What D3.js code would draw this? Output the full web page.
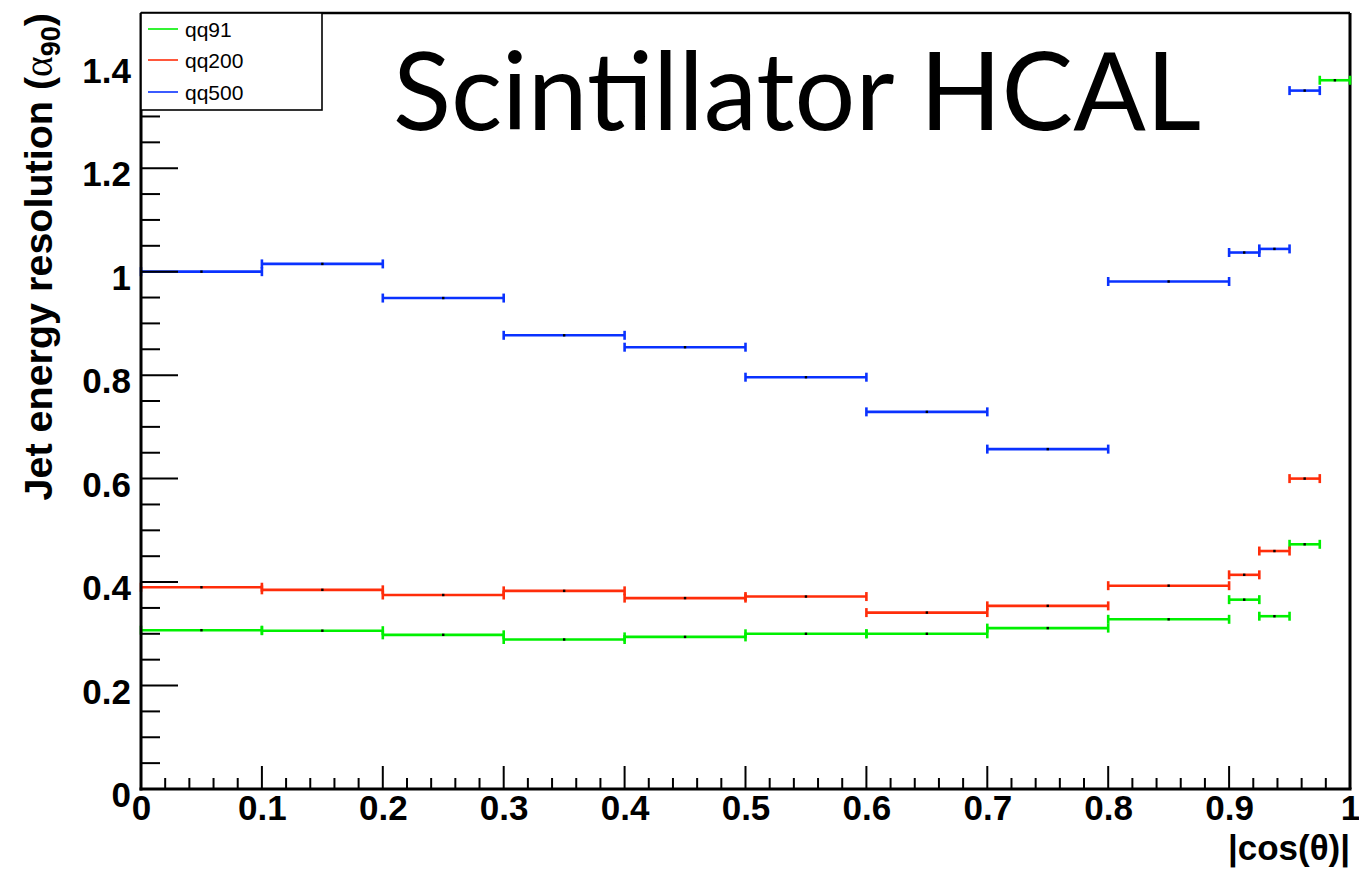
<!DOCTYPE html>
<html>
<head>
<meta charset="utf-8">
<script src="https://cdn.jsdelivr.net/npm/d3@7"></script>
<style>
  html, body { margin: 0; padding: 0; background: #fff; }
  svg { display: block; }
</style>
</head>
<body>
<svg id="chart" width="1359" height="872"></svg>
<script>
// Bin edges in |cos(theta)|
const binEdges = [0, 0.1, 0.2, 0.3, 0.4, 0.5, 0.6, 0.7, 0.8, 0.9, 0.925, 0.95, 0.975, 1.0];

// Jet energy resolution alpha_90 per bin (null = not shown)
const qq91  = [0.307, 0.306, 0.298, 0.289, 0.294, 0.300, 0.300, 0.311, 0.328, 0.366, 0.334, 0.473, 1.370];
const qq200 = [0.390, 0.385, 0.375, 0.383, 0.369, 0.372, 0.341, 0.354, 0.393, 0.414, 0.460, 0.600, null];
const qq500 = [1.000, 1.015, 0.949, 0.877, 0.854, 0.796, 0.729, 0.657, 0.981, 1.037, 1.044, 1.350, null];

const seriesNames  = ["qq91", "qq200", "qq500"];
const seriesColors = ["#00f000", "#ff2d0a", "#0a32ff"];
const seriesValues = [qq91, qq200, qq500];

const xTickValues = [0, 0.1, 0.2, 0.3, 0.4, 0.5, 0.6, 0.7, 0.8, 0.9, 1];
const yTickValues = [0, 0.2, 0.4, 0.6, 0.8, 1.0, 1.2, 1.4];

const titleText = "Scintillator HCAL";

const svg = d3.select("#chart");
const frame = { left: 141, right: 1350, top: 13, bottom: 789 };

const x = d3.scaleLinear().domain([0, 1]).range([frame.left, frame.right]);
const y = d3.scaleLinear().domain([0, 1.5]).range([frame.bottom, frame.top]);

const labelFont = "'Liberation Sans', Arial, Helvetica, sans-serif";

// Frame (top and right edges)
svg.append("line").attr("x1", frame.left).attr("x2", frame.right)
  .attr("y1", frame.top).attr("y2", frame.top)
  .attr("stroke", "#000").attr("stroke-width", 2.5);
svg.append("line").attr("x1", frame.right).attr("x2", frame.right)
  .attr("y1", frame.top).attr("y2", frame.bottom)
  .attr("stroke", "#000").attr("stroke-width", 3);

// Histograms drawn as horizontal error bars with end caps and a central marker
const bins = d3.range(binEdges.length - 1).map(i => ({ lo: binEdges[i], hi: binEdges[i + 1] }));

seriesValues.forEach((vals, s) => {
  const g = svg.append("g").attr("class", "series-" + seriesNames[s]);
  const pts = bins.map((b, i) => ({ lo: b.lo, hi: b.hi, v: vals[i] })).filter(d => d.v != null);
  g.selectAll("line.bar").data(pts).join("line").attr("class", "bar")
    .attr("x1", d => x(d.lo)).attr("x2", d => x(d.hi))
    .attr("y1", d => y(d.v)).attr("y2", d => y(d.v))
    .attr("stroke", seriesColors[s]).attr("stroke-width", 2.6);
  g.selectAll("line.capl").data(pts).join("line").attr("class", "capl")
    .attr("x1", d => x(d.lo)).attr("x2", d => x(d.lo))
    .attr("y1", d => y(d.v) - 4.5).attr("y2", d => y(d.v) + 4.5)
    .attr("stroke", seriesColors[s]).attr("stroke-width", 2.6);
  g.selectAll("line.capr").data(pts).join("line").attr("class", "capr")
    .attr("x1", d => x(d.hi)).attr("x2", d => x(d.hi))
    .attr("y1", d => y(d.v) - 4.5).attr("y2", d => y(d.v) + 4.5)
    .attr("stroke", seriesColors[s]).attr("stroke-width", 2.6);
  g.selectAll("rect.mk").data(pts).join("rect").attr("class", "mk")
    .attr("x", d => x((d.lo + d.hi) / 2) - 1.2).attr("y", d => y(d.v) - 1.2)
    .attr("width", 2.4).attr("height", 2.4).attr("fill", "#000");
});

// Y axis
const yAxis = d3.axisLeft(y).tickValues(yTickValues)
  .tickFormat(d => d === 0 ? "0" : d3.format("~g")(+d.toFixed(1)))
  .tickSize(0).tickPadding(10);
const gy = svg.append("g").attr("transform", `translate(${frame.left},0)`).call(yAxis);
gy.select(".domain").remove();
gy.selectAll("text").attr("font-family", labelFont).attr("font-weight", "bold")
  .attr("font-size", 35).attr("fill", "#000").attr("dy", "0.5em");

// Y ticks drawn inward: major every 0.2, minor every 0.05
const yMinor = d3.range(0, 1.5001, 0.05).map(v => +v.toFixed(2));
svg.append("g").selectAll("line").data(yMinor).join("line")
  .attr("x1", frame.left)
  .attr("x2", d => frame.left + (Math.abs(d / 0.2 - Math.round(d / 0.2)) < 1e-6 ? 37 : 19))
  .attr("y1", d => y(d)).attr("y2", d => y(d))
  .attr("stroke", "#000").attr("stroke-width", 2);

// X axis
const xAxis = d3.axisBottom(x).tickValues(xTickValues)
  .tickFormat(d => d3.format("~g")(+d.toFixed(1)))
  .tickSize(0).tickPadding(10);
const gx = svg.append("g").attr("transform", `translate(0,${frame.bottom})`).call(xAxis);
gx.select(".domain").remove();
gx.selectAll("text").attr("font-family", labelFont).attr("font-weight", "bold")
  .attr("font-size", 35).attr("fill", "#000").attr("dy", "0.6em");

// X ticks drawn inward: major every 0.1, minor every 0.02
const xMinor = d3.range(0, 1.0001, 0.02).map(v => +v.toFixed(2));
svg.append("g").selectAll("line").data(xMinor).join("line")
  .attr("x1", d => x(d)).attr("x2", d => x(d))
  .attr("y1", frame.bottom)
  .attr("y2", d => frame.bottom - (Math.abs(d / 0.1 - Math.round(d / 0.1)) < 1e-6 ? 23 : 11))
  .attr("stroke", "#000").attr("stroke-width", 2);

// Axis lines
svg.append("line").attr("x1", frame.left).attr("x2", frame.left)
  .attr("y1", frame.top).attr("y2", frame.bottom + 1.5)
  .attr("stroke", "#000").attr("stroke-width", 3);
svg.append("line").attr("x1", frame.left - 1.5).attr("x2", frame.right + 1.5)
  .attr("y1", frame.bottom).attr("y2", frame.bottom)
  .attr("stroke", "#000").attr("stroke-width", 3);

// X axis title
svg.append("text").attr("x", frame.right).attr("y", 860)
  .attr("text-anchor", "end").attr("font-family", labelFont)
  .attr("font-weight", "bold").attr("font-size", 35).attr("fill", "#000")
  .text("|cos(θ)|");

// Y axis title
const yt = svg.append("text")
  .attr("transform", `translate(52,${frame.top}) rotate(-90)`)
  .attr("text-anchor", "end").attr("font-family", labelFont)
  .attr("font-weight", "bold").attr("font-size", 39.5).attr("fill", "#000");
yt.append("tspan").text("Jet energy resolution (");
yt.append("tspan").attr("font-family", "'Liberation Serif', 'DejaVu Serif', serif")
  .attr("font-weight", "normal").text("α");
yt.append("tspan").attr("font-size", 27).attr("dy", 8).text("90");
yt.append("tspan").attr("dy", -8).text(")");

// Legend
const legend = { x0: 141, y0: 13, x1: 322, y1: 110 };
svg.append("rect").attr("x", legend.x0).attr("y", legend.y0)
  .attr("width", legend.x1 - legend.x0).attr("height", legend.y1 - legend.y0)
  .attr("fill", "#fff").attr("stroke", "#000").attr("stroke-width", 1.6);
const legendY = [29, 60, 92];
seriesNames.forEach((name, i) => {
  svg.append("line").attr("x1", 148).attr("x2", 178)
    .attr("y1", legendY[i]).attr("y2", legendY[i])
    .attr("stroke", seriesColors[i]).attr("stroke-width", 1.6);
  svg.append("text").attr("x", 185).attr("y", legendY[i]).attr("dy", "0.36em")
    .attr("font-family", labelFont).attr("font-size", 21).attr("fill", "#000")
    .text(name);
});

// Big title
svg.append("text").attr("x", 393).attr("y", 130)
  .attr("font-family", "Lato, 'Open Sans', sans-serif").attr("font-size", 108)
  .attr("fill", "#000")
  .attr("textLength", 808).attr("lengthAdjust", "spacingAndGlyphs")
  .text(titleText);
</script>
</body>
</html>
